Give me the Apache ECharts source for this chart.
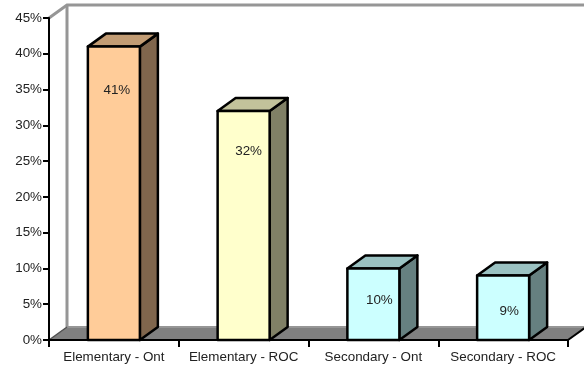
<!DOCTYPE html>
<html>
<head>
<meta charset="utf-8">
<style>html,body{margin:0;padding:0;background:#fff}#chart{width:584px;height:366px}</style>
<script src="https://cdn.jsdelivr.net/npm/echarts@6/dist/echarts.min.js"></script>
</head>
<body>
<div id="chart"></div>
<script>
// Share of teachers by panel and region
const categories = ['Elementary - Ont', 'Elementary - ROC', 'Secondary - Ont', 'Secondary - ROC'];
const shares = [41, 32, 10, 9];
const yTicks = { min: 0, max: 45, step: 5 };

// Pseudo-3D look: colours for each bar's faces, and hand-placed value labels
const frontColors = ['#FFCC99', '#FFFFCC', '#CCFFFF', '#CCFFFF'];
const topColors = ['#C29C74', '#C2C29B', '#9BC2C2', '#9BC2C2'];
const sideColors = ['#80664D', '#808066', '#668080', '#668080'];
const labelShift = [[3, 250], [5, 189], [6, 40], [6, 29]];
const depthX = 18, depthY = 13, barWidth = 52;
const edge = { stroke: '#000', lineWidth: 2.5, lineJoin: 'round' };
const textFont = '13.4px "Liberation Sans", Arial, sans-serif';

const chart = echarts.init(document.getElementById('chart'), null, { renderer: 'canvas' });

function renderRoom(params) {
  const c = params.coordSys;
  const l = c.x, r = c.x + c.width, t = c.y, b = c.y + c.height;
  const wall = { stroke: '#969696', lineWidth: 3, fill: null, lineJoin: 'miter' };
  return {
    type: 'group',
    children: [
      { type: 'polygon', shape: { points: [[l, b], [l + depthX, b - depthY], [r + depthX, b - depthY], [r, b]] },
        style: { fill: '#808080', stroke: null } },
      { type: 'polyline', shape: { points: [[l, t], [l + depthX, t - depthY], [r + depthX, t - depthY]] }, style: wall },
      { type: 'line', shape: { x1: l + depthX, y1: t - depthY, x2: l + depthX, y2: b - depthY }, style: wall },
      { type: 'line', shape: { x1: l + depthX, y1: b - depthY, x2: r + depthX, y2: b - depthY },
        style: { stroke: '#969696', lineWidth: 2 } },
      { type: 'line', shape: { x1: l, y1: b, x2: l + depthX, y2: b - depthY }, style: { stroke: '#505050', lineWidth: 1.5 } },
      { type: 'line', shape: { x1: r, y1: b, x2: r + depthX, y2: b - depthY }, style: { stroke: '#000', lineWidth: 2 } }
    ]
  };
}

function renderBar(params, api) {
  const i = params.dataIndex;
  const top = api.coord([i, api.value(1)]);
  const base = api.coord([i, 0]);
  const x0 = top[0] - barWidth / 2, x1 = top[0] + barWidth / 2;
  const y0 = top[1], y1 = base[1];
  return {
    type: 'group',
    children: [
      { type: 'polygon', shape: { points: [[x1, y0], [x1 + depthX, y0 - depthY], [x1 + depthX, y1 - depthY], [x1, y1]] },
        style: Object.assign({ fill: sideColors[i] }, edge) },
      { type: 'polygon', shape: { points: [[x0, y0], [x0 + depthX, y0 - depthY], [x1 + depthX, y0 - depthY], [x1, y0]] },
        style: Object.assign({ fill: topColors[i] }, edge) },
      { type: 'rect', shape: { x: x0, y: y0, width: barWidth, height: y1 - y0 },
        style: Object.assign({ fill: frontColors[i] }, edge) },
      { type: 'text', x: top[0] + labelShift[i][0], y: y1 - labelShift[i][1],
        style: { text: api.value(1) + '%', fill: '#222', font: textFont, align: 'center', verticalAlign: 'middle' } }
    ]
  };
}

chart.setOption({
  animation: false,
  backgroundColor: '#fff',
  grid: { left: 49, top: 18, width: 519, height: 322, containLabel: false },
  xAxis: {
    type: 'category', data: categories, boundaryGap: true, z: 5,
    axisLine: { lineStyle: { color: '#000', width: 2 } },
    axisTick: { show: true, alignWithLabel: false, interval: 0, length: 7, lineStyle: { color: '#000', width: 2 } },
    axisLabel: { interval: 0, margin: 11, color: '#222', fontSize: 13.4, fontFamily: '"Liberation Sans", Arial, sans-serif' }
  },
  yAxis: {
    type: 'value', min: yTicks.min, max: yTicks.max, interval: yTicks.step, z: 5,
    splitLine: { show: false },
    axisLine: { show: true, lineStyle: { color: '#000', width: 2 } },
    axisTick: { show: true, length: 6, lineStyle: { color: '#000', width: 2 } },
    axisLabel: { margin: 7, formatter: '{value}%', color: '#222', fontSize: 13.4, fontFamily: '"Liberation Sans", Arial, sans-serif' }
  },
  series: [
    { type: 'custom', z: 1, silent: true, clip: false, renderItem: renderRoom, data: [[0, 0]] },
    { type: 'custom', z: 6, clip: false, renderItem: renderBar,
      encode: { x: 0, y: 1 }, data: shares.map((v, i) => [i, v]) }
  ]
});
</script>
</body>
</html>
